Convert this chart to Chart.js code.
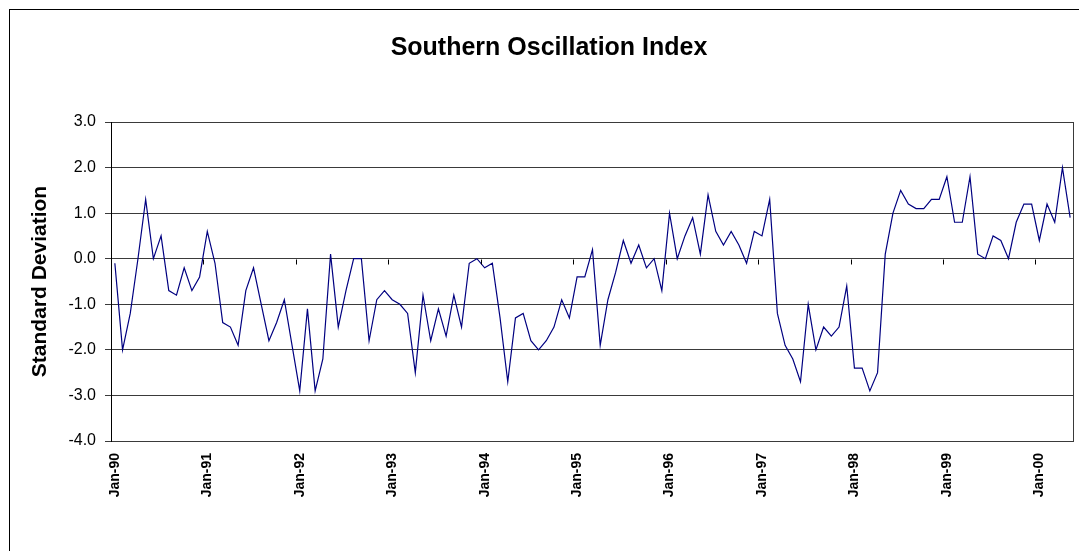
<!DOCTYPE html>
<html><head><meta charset="utf-8">
<script src="https://cdn.jsdelivr.net/npm/chart.js@4/dist/chart.umd.min.js"></script>
<style>html,body{margin:0;padding:0;background:#fff;overflow:hidden}#wrap{position:relative;width:1079px;height:551px}</style>
</head><body><div id="wrap"><canvas id="c" width="1079" height="551"></canvas></div>
<script>
const chartTitle = 'Southern Oscillation Index';
const yAxisTitle = 'Standard Deviation';
const monthNames = ['Jan','Feb','Mar','Apr','May','Jun','Jul','Aug','Sep','Oct','Nov','Dec'];
const yearSuffixes = ['90','91','92','93','94','95','96','97','98','99','00'];
const lastMonthCount = 5; // data ends May-00

const soi1990 = [-0.1, -2.0, -1.2, 0.0, 1.3, 0.0, 0.5, -0.7, -0.8, -0.2, -0.7, -0.4];
const soi1991 = [0.6, -0.1, -1.4, -1.5, -1.9, -0.7, -0.2, -1.0, -1.8, -1.4, -0.9, -1.9];
const soi1992 = [-2.9, -1.1, -2.9, -2.2, 0.1, -1.5, -0.7, 0.0, 0.0, -1.8, -0.9, -0.7];
const soi1993 = [-0.9, -1.0, -1.2, -2.5, -0.8, -1.8, -1.1, -1.7, -0.8, -1.5, -0.1, 0.0];
const soi1994 = [-0.2, -0.1, -1.3, -2.7, -1.3, -1.2, -1.8, -2.0, -1.8, -1.5, -0.9, -1.3];
const soi1995 = [-0.4, -0.4, 0.2, -1.9, -0.9, -0.3, 0.4, -0.1, 0.3, -0.2, 0.0, -0.7];
const soi1996 = [1.0, 0.0, 0.5, 0.9, 0.1, 1.4, 0.6, 0.3, 0.6, 0.3, -0.1, 0.6];
const soi1997 = [0.5, 1.3, -1.2, -1.9, -2.2, -2.7, -1.0, -2.0, -1.5, -1.7, -1.5, -0.6];
const soi1998 = [-2.4, -2.4, -2.9, -2.5, 0.1, 1.0, 1.5, 1.2, 1.1, 1.1, 1.3, 1.3];
const soi1999 = [1.8, 0.8, 0.8, 1.8, 0.1, 0.0, 0.5, 0.4, 0.0, 0.8, 1.2, 1.2];
const soi2000 = [0.4, 1.2, 0.8, 2.0, 0.9];

const yMin = -4, yMax = 3, yStep = 1;

const soiValues = [].concat(soi1990, soi1991, soi1992, soi1993, soi1994, soi1995,
  soi1996, soi1997, soi1998, soi1999, soi2000);

const categories = [];
yearSuffixes.forEach((yy, yi) => {
  const n = yi === yearSuffixes.length - 1 ? lastMonthCount : 12;
  for (let m = 0; m < n; m++) categories.push(monthNames[m] + '-' + yy);
});

const FONT = "'Liberation Sans', Arial, sans-serif";
const GRID = '#3a3a3a';

const framePlugin = {
  id: 'frame',
  beforeDraw(chart) {
    const ctx = chart.ctx;
    ctx.save();
    ctx.fillStyle = '#fff';
    ctx.fillRect(0, 0, chart.width, chart.height);
    ctx.strokeStyle = '#000';
    ctx.lineWidth = 1;
    ctx.strokeRect(9.5, 9.5, chart.width + 20, chart.height + 20);
    ctx.restore();
  },
  afterDraw(chart) {
    const ctx = chart.ctx, a = chart.chartArea;
    const xs = chart.scales.x, ys = chart.scales.y;
    ctx.save();
    ctx.strokeStyle = GRID;
    ctx.lineWidth = 1;
    const r = Math.round(a.right) - 0.5;
    ctx.beginPath();
    ctx.moveTo(r, Math.round(a.top));
    ctx.lineTo(r, Math.round(a.bottom) + 0.5);
    ctx.stroke();
    // category-axis tick marks at the 0.0 line, every 12 categories
    const y0 = Math.round(ys.getPixelForValue(0)) + 0.5;
    ctx.strokeStyle = '#000';
    ctx.beginPath();
    for (let i = 12; i < categories.length; i += 12) {
      const x = Math.round((xs.getPixelForValue(i) + xs.getPixelForValue(i - 1)) / 2) + 0.5;
      ctx.moveTo(x, y0);
      ctx.lineTo(x, y0 + 5);
    }
    ctx.stroke();
    ctx.restore();
  }
};

new Chart(document.getElementById('c'), {
  type: 'line',
  data: {
    labels: categories,
    datasets: [{
      label: 'SOI',
      data: soiValues,
      borderColor: '#000080',
      borderWidth: 1.2,
      pointRadius: 0,
      tension: 0,
      fill: false
    }]
  },
  options: {
    responsive: false,
    animation: false,
    devicePixelRatio: 1,
    layout: { padding: { left: 24, right: 5, top: 0, bottom: 0 } },
    plugins: {
      legend: { display: false },
      tooltip: { enabled: false },
      title: {
        display: true,
        text: chartTitle,
        color: '#000',
        font: { family: FONT, size: 25, weight: 'bold' },
        padding: { top: 33, bottom: 59 }
      }
    },
    scales: {
      x: {
        type: 'category',
        offset: true,
        grid: { display: false },
        border: { display: false },
        ticks: {
          autoSkip: false,
          maxRotation: 90,
          minRotation: 90,
          padding: 4,
          color: '#000',
          font: { family: FONT, size: 14, weight: 'bold' },
          callback: (v, i) => (i % 12 === 0 ? categories[i] : '')
        },
        afterFit: s => { s.height = 110; s.paddingLeft = 0; s.paddingRight = 0; }
      },
      y: {
        min: yMin,
        max: yMax,
        ticks: {
          stepSize: yStep,
          color: '#000',
          padding: 9,
          font: { family: FONT, size: 16 },
          callback: v => Number(v).toFixed(1)
        },
        grid: { color: GRID, lineWidth: 1, tickLength: 6, drawTicks: true },
        border: { display: true, color: '#000', width: 1 },
        title: {
          display: true,
          text: yAxisTitle,
          color: '#000',
          font: { family: FONT, size: 21, weight: 'bold' },
          padding: { top: 4, bottom: 0 }
        },
        afterFit: s => { s.width = 87; s.paddingTop = 0; s.paddingBottom = 0; }
      }
    }
  },
  plugins: [framePlugin]
});
</script>
</body></html>
